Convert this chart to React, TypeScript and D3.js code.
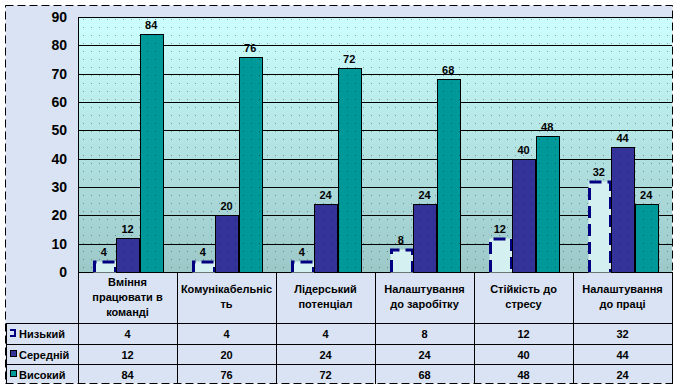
import { useEffect, useRef } from 'react'
import * as d3 from 'd3'

const categories = [
  ['Вміння', 'працювати в', 'команді'],
  ['Комунікабельніс', 'ть'],
  ['Лідерський', 'потенціал'],
  ['Налаштування', 'до заробітку'],
  ['Стійкість до', 'стресу'],
  ['Налаштування', 'до праці'],
]
const seriesNames = ['Низький', 'Середній', 'Високий']
const low = [4, 4, 4, 8, 12, 32]
const mid = [12, 20, 24, 24, 40, 44]
const high = [84, 76, 72, 68, 48, 24]
const yTicks = [0, 10, 20, 30, 40, 50, 60, 70, 80, 90]

const App = () => {
  const svgRef = useRef(null)

  useEffect(() => {
    const width = 678
    const height = 391
    const left = 78
    const right = 672
    const top = 17
    const bottom = 272
    const font = '"Liberation Sans", Arial, sans-serif'
    const values = [low, mid, high]

    const svg = d3.select(svgRef.current).attr('width', width).attr('height', height)
    svg.selectAll('*').remove()

    const defs = svg.append('defs')
    const grad = defs
      .append('linearGradient')
      .attr('id', 'plotbg')
      .attr('x1', 0)
      .attr('y1', 0)
      .attr('x2', 0)
      .attr('y2', 1)
    grad.append('stop').attr('offset', '0%').attr('stop-color', '#ccffff')
    grad.append('stop').attr('offset', '100%').attr('stop-color', '#9cc8c8')
    const dots = defs
      .append('pattern')
      .attr('id', 'dots')
      .attr('width', 8)
      .attr('height', 8)
      .attr('patternUnits', 'userSpaceOnUse')
    dots.append('rect').attr('width', 1).attr('height', 1).attr('x', 3).attr('y', 3).attr('fill', '#000').attr('opacity', 0.35)

    // chart background
    svg.append('rect').attr('x', 5.5).attr('y', 5.5).attr('width', 667).attr('height', 378).attr('fill', '#dae3f4')

    const x = d3.scaleBand<number>().domain(d3.range(categories.length)).range([left, right])
    const x1 = d3
      .scaleBand<number>()
      .domain(d3.range(seriesNames.length))
      .range([(x.bandwidth() - 70) / 2, (x.bandwidth() + 70) / 2])
      .paddingInner(0.05)
    const y = d3.scaleLinear().domain([0, 90]).range([bottom, top])

    // plot area
    svg
      .append('rect')
      .attr('x', left)
      .attr('y', top)
      .attr('width', right - left)
      .attr('height', bottom - top)
      .attr('fill', 'url(#plotbg)')
    svg
      .append('rect')
      .attr('x', left)
      .attr('y', top)
      .attr('width', right - left)
      .attr('height', bottom - top)
      .attr('fill', 'url(#dots)')

    // grid lines
    svg
      .append('g')
      .selectAll('line')
      .data(yTicks)
      .join('line')
      .attr('x1', left)
      .attr('x2', right)
      .attr('y1', (d) => Math.round(y(d)) + 0.5)
      .attr('y2', (d) => Math.round(y(d)) + 0.5)
      .attr('stroke', '#000')

    svg
      .append('line')
      .attr('x1', left + 0.5)
      .attr('x2', left + 0.5)
      .attr('y1', top)
      .attr('y2', bottom)
      .attr('stroke', '#000')

    // y labels
    svg
      .append('g')
      .selectAll('text')
      .data(yTicks)
      .join('text')
      .attr('x', 67)
      .attr('y', (d) => y(d) + 5)
      .attr('text-anchor', 'end')
      .attr('font-family', font)
      .attr('font-weight', 'bold')
      .attr('font-size', 14)
      .text((d) => d)

    // bars
    const fills = ['#d4f0f0', '#333399', '#009999']
    const bw = Math.round(x1.bandwidth())
    const bx = (i: number, s: number) => Math.round((x(i) as number) + (x1(s) as number)) + 0.5
    values.forEach((vals, s) => {
      const g = svg.append('g')
      if (s === 0) {
        g.selectAll('rect')
          .data(vals)
          .join('rect')
          .attr('x', (_, i) => bx(i, s))
          .attr('y', (d) => Math.round(y(d)) + 0.5)
          .attr('width', bw)
          .attr('height', (d) => Math.round(y(0)) - Math.round(y(d)))
          .attr('fill', fills[s])
        g.selectAll('path')
          .data(vals)
          .join('path')
          .attr('d', (d, i) => {
            const x0 = bx(i, s) + 1
            const yt = Math.round(y(d)) + 1
            return `M${x0},${bottom} V${yt} H${x0 + bw - 2} V${bottom}`
          })
          .attr('fill', 'none')
          .attr('stroke', '#000080')
          .attr('stroke-width', 3)
          .attr('stroke-dasharray', '12 6')
      } else {
        g.selectAll('rect')
          .data(vals)
          .join('rect')
          .attr('x', (_, i) => bx(i, s))
          .attr('y', (d) => Math.round(y(d)) + 0.5)
          .attr('width', bw)
          .attr('height', (d) => Math.round(y(0)) - Math.round(y(d)))
          .attr('fill', fills[s])
          .attr('stroke', '#000')
        g.selectAll('rect.dot')
          .data(vals)
          .join('rect')
          .attr('class', 'dot')
          .attr('x', (_, i) => bx(i, s) + 0.5)
          .attr('y', (d) => Math.round(y(d)) + 1)
          .attr('width', bw - 1)
          .attr('height', (d) => Math.round(y(0)) - Math.round(y(d)) - 1)
          .attr('fill', 'url(#dots)')
      }
      g.selectAll('text')
        .data(vals)
        .join('text')
        .attr('x', (_, i) => (x(i) as number) + (x1(s) as number) + x1.bandwidth() / 2)
        .attr('y', (d) => y(d) - 5)
        .attr('text-anchor', 'middle')
        .attr('font-family', font)
        .attr('font-weight', 'bold')
        .attr('font-size', 11)
        .text((d) => d)
    })

    // data table
    const rowY = [323, 344, 364, 384]
    const table = svg.append('g').attr('stroke', '#000')
    d3.range(categories.length + 1).forEach((i) => {
      const xx = i === categories.length ? right : (x(i) as number)
      table
        .append('line')
        .attr('x1', Math.round(xx) + 0.5)
        .attr('x2', Math.round(xx) + 0.5)
        .attr('y1', bottom)
        .attr('y2', 384)
    })
    rowY.slice(0, 3).forEach((ry) => {
      table.append('line').attr('x1', 6).attr('x2', right).attr('y1', ry + 0.5).attr('y2', ry + 0.5)
    })
    table.append('line').attr('x1', 6.5).attr('x2', 6.5).attr('y1', 323).attr('y2', 384)

    const catText = svg
      .append('g')
      .selectAll('text')
      .data(categories)
      .join('text')
      .attr('text-anchor', 'middle')
      .attr('font-family', font)
      .attr('font-weight', 'bold')
      .attr('font-size', 11)
      .attr('transform', (d, i) => `translate(${(x(i) as number) + x.bandwidth() / 2}, ${d.length === 3 ? 286 : 293})`)
    catText
      .selectAll('tspan')
      .data((d) => d)
      .join('tspan')
      .attr('x', 0)
      .attr('dy', (_, j) => (j === 0 ? 0 : 15))
      .text((d) => d)

    values.forEach((vals, s) => {
      const cy = rowY[s] + 15
      svg
        .append('g')
        .selectAll('text')
        .data(vals)
        .join('text')
        .attr('x', (_, i) => (x(i) as number) + x.bandwidth() / 2)
        .attr('y', cy)
        .attr('text-anchor', 'middle')
        .attr('font-family', font)
        .attr('font-weight', 'bold')
        .attr('font-size', 11)
        .text((d) => d)
      svg
        .append('text')
        .attr('x', 19)
        .attr('y', cy)
        .attr('font-family', font)
        .attr('font-weight', 'bold')
        .attr('font-size', 11)
        .text(seriesNames[s])
      if (s === 0) {
        svg
          .append('path')
          .attr('d', `M10,${cy - 8} h5 v6 h-5`)
          .attr('fill', 'none')
          .attr('stroke', '#000080')
          .attr('stroke-width', 2)
      } else {
        svg
          .append('rect')
          .attr('x', 10.5)
          .attr('y', cy - 8.5)
          .attr('width', 6)
          .attr('height', 6)
          .attr('fill', fills[s])
          .attr('stroke', '#000')
      }
    })

    // outer dashed border
    svg
      .append('rect')
      .attr('x', 5.5)
      .attr('y', 5.5)
      .attr('width', 667)
      .attr('height', 378)
      .attr('fill', 'none')
      .attr('stroke', '#000')
      .attr('stroke-dasharray', '8 4')
  }, [])

  return <svg ref={svgRef} style={{ position: 'absolute', left: 0, top: 0 }}></svg>
}

export default App
